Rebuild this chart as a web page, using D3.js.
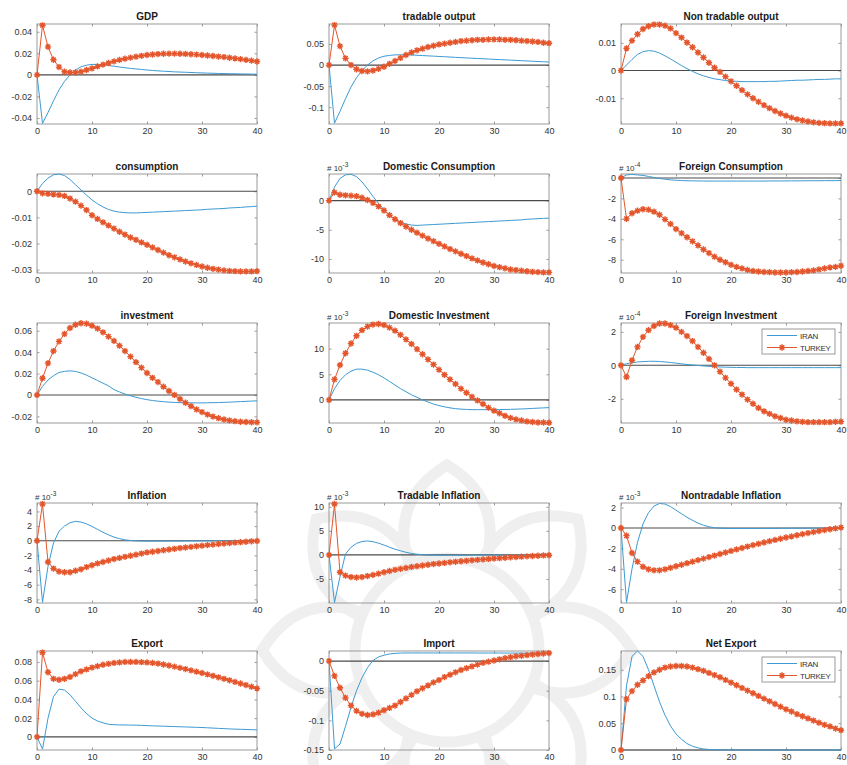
<!DOCTYPE html>
<html>
<head>
<meta charset="utf-8">
<script src="https://cdn.jsdelivr.net/npm/d3@7"></script>
<style>
  body { margin: 0; background: #fff; }
  svg { display: block; font-family: "Liberation Sans", Arial, Helvetica, sans-serif; }
</style>
</head>
<body>
<svg id="fig" width="847" height="765"></svg>
<script>
// Impulse responses, periods 0..40
const steps = d3.range(0, 41);
const xTicks = [0, 10, 20, 30, 40];
const seriesNames = ["IRAN", "TURKEY"];

const gdpIran = [0, -0.045, -0.035, -0.024, -0.014, -0.006, 0.0, 0.0045, 0.0075, 0.009, 0.0097,
  0.0097, 0.0093, 0.0087, 0.008, 0.0073, 0.0066, 0.006, 0.0055, 0.005, 0.0045,
  0.0041, 0.0037, 0.0034, 0.0031, 0.0028, 0.0026, 0.0024, 0.0022, 0.002, 0.0018,
  0.0016, 0.0015, 0.0013, 0.0012, 0.0011, 0.001, 0.0009, 0.0008, 0.0007, 0.0006];
const gdpTurkey = [0, 0.046, 0.026, 0.014, 0.0072, 0.003, 0.0022, 0.0022, 0.003, 0.0045, 0.006,
  0.0078, 0.0095, 0.011, 0.0125, 0.0139, 0.015, 0.016, 0.0169, 0.0177, 0.0184,
  0.0189, 0.0193, 0.0196, 0.0197, 0.0197, 0.0196, 0.0194, 0.0191, 0.0188, 0.0184,
  0.018, 0.0175, 0.017, 0.0165, 0.0159, 0.0153, 0.0146, 0.0139, 0.0132, 0.0124];

const tradOutIran = [0, -0.138, -0.11, -0.08, -0.052, -0.03, -0.013, 0.0, 0.01, 0.017, 0.021,
  0.023, 0.0242, 0.0245, 0.0243, 0.024, 0.0233, 0.0226, 0.0219, 0.0212, 0.0205,
  0.0198, 0.0191, 0.0184, 0.0177, 0.017, 0.0163, 0.0157, 0.015, 0.0143, 0.0137,
  0.013, 0.0124, 0.0117, 0.0111, 0.0104, 0.0098, 0.0091, 0.0085, 0.0078, 0.0072];
const tradOutTurkey = [0, 0.095, 0.045, 0.016, 0.0, -0.010, -0.014, -0.015, -0.013, -0.009, -0.004,
  0.003, 0.010, 0.017, 0.024, 0.030, 0.035, 0.039, 0.043, 0.046, 0.049,
  0.051, 0.053, 0.055, 0.057, 0.058, 0.059, 0.060, 0.060, 0.061, 0.061,
  0.061, 0.060, 0.060, 0.059, 0.058, 0.057, 0.056, 0.055, 0.053, 0.052];

const nonTradOutIran = [0, 0.002, 0.004, 0.0058, 0.0068, 0.0072, 0.007, 0.0063, 0.0053, 0.0042, 0.003,
  0.0018, 0.0007, -0.0003, -0.0012, -0.0019, -0.0025, -0.003, -0.0033, -0.0036, -0.0038,
  -0.0039, -0.004, -0.004, -0.004, -0.004, -0.004, -0.0039, -0.0039, -0.0038, -0.0037,
  -0.0036, -0.0035, -0.0035, -0.0034, -0.0033, -0.0032, -0.0032, -0.0031, -0.003, -0.003];
const nonTradOutTurkey = [0, 0.008, 0.0108, 0.0131, 0.015, 0.016, 0.0166, 0.0166, 0.0162, 0.0152, 0.0135,
  0.0119, 0.0101, 0.0084, 0.0065, 0.0047, 0.0028, 0.001, -0.0005, -0.0022, -0.0039,
  -0.0055, -0.0071, -0.0086, -0.010, -0.0113, -0.0125, -0.0136, -0.0146, -0.0155, -0.0163,
  -0.017, -0.0176, -0.018, -0.0184, -0.0187, -0.0189, -0.019, -0.0191, -0.0191, -0.0191];

const consIran = [0, 0.003, 0.005, 0.0063, 0.0066, 0.006, 0.0045, 0.0025, 0.0005, -0.0015, -0.0033,
  -0.0048, -0.006, -0.007, -0.0076, -0.008, -0.0082, -0.0083, -0.0083, -0.0082, -0.0081,
  -0.008, -0.0079, -0.0078, -0.0077, -0.0076, -0.0075, -0.0074, -0.0073, -0.0072, -0.0071,
  -0.0069, -0.0068, -0.0067, -0.0066, -0.0064, -0.0063, -0.0062, -0.006, -0.0059, -0.0057];
const consTurkey = [0, -0.0008, -0.001, -0.0012, -0.0014, -0.0018, -0.0028, -0.004, -0.0055, -0.0072, -0.0092,
  -0.0106, -0.0119, -0.0131, -0.0143, -0.0155, -0.0166, -0.0177, -0.0186, -0.0196, -0.0205,
  -0.0215, -0.0225, -0.0235, -0.0245, -0.0253, -0.0261, -0.0269, -0.0276, -0.0282, -0.0288,
  -0.0293, -0.0297, -0.03, -0.0303, -0.0305, -0.0306, -0.0307, -0.0307, -0.0307, -0.0306];

// x 10^-3
const domConsIran = [0, 2.3, 3.8, 4.4, 4.5, 4.1, 3.2, 2.0, 0.7, -0.5, -1.6,
  -2.5, -3.2, -3.7, -4.0, -4.2, -4.25, -4.2, -4.15, -4.1, -4.05,
  -4.0, -3.95, -3.9, -3.85, -3.8, -3.75, -3.7, -3.65, -3.6, -3.55,
  -3.5, -3.45, -3.4, -3.35, -3.3, -3.2, -3.15, -3.1, -3.05, -3.0];
const domConsTurkey = [0, 1.4, 1.0, 0.9, 0.85, 0.75, 0.5, 0.1, -0.4, -1.0, -1.7,
  -2.5, -3.2, -3.85, -4.45, -5.0, -5.5, -6.0, -6.5, -6.95, -7.4,
  -7.85, -8.3, -8.7, -9.1, -9.5, -9.9, -10.25, -10.6, -10.9, -11.2,
  -11.4, -11.6, -11.8, -11.9, -12.0, -12.1, -12.2, -12.25, -12.3, -12.3];

// x 10^-4
const forConsIran = [0, 0.3, 0.35, 0.3, 0.25, 0.15, 0.05, -0.05, -0.12, -0.18, -0.22,
  -0.25, -0.27, -0.28, -0.29, -0.3, -0.3, -0.3, -0.3, -0.3, -0.3,
  -0.3, -0.3, -0.3, -0.3, -0.3, -0.3, -0.29, -0.29, -0.29, -0.29,
  -0.28, -0.28, -0.28, -0.27, -0.27, -0.27, -0.26, -0.26, -0.26, -0.25];
const forConsTurkey = [0, -4.0, -3.45, -3.2, -3.06, -3.1, -3.3, -3.6, -4.05, -4.5, -5.0,
  -5.4, -5.8, -6.2, -6.6, -7.0, -7.35, -7.7, -8.0, -8.25, -8.5,
  -8.7, -8.85, -9.0, -9.1, -9.15, -9.2, -9.22, -9.25, -9.25, -9.25,
  -9.22, -9.2, -9.15, -9.1, -9.05, -8.95, -8.85, -8.75, -8.7, -8.6];

const invIran = [0, 0.008, 0.014, 0.018, 0.021, 0.022, 0.0225, 0.022, 0.0205, 0.0185, 0.016,
  0.0135, 0.011, 0.0085, 0.005, 0.0028, 0.0008, -0.0008, -0.0022, -0.0034, -0.0044,
  -0.0052, -0.0058, -0.0063, -0.0067, -0.007, -0.0072, -0.0073, -0.0074, -0.0074, -0.0074,
  -0.0073, -0.0072, -0.0071, -0.0069, -0.0067, -0.0065, -0.0062, -0.006, -0.0057, -0.0055];
const invTurkey = [0, 0.0156, 0.0297, 0.041, 0.050, 0.057, 0.0625, 0.0656, 0.067, 0.0666, 0.0647,
  0.062, 0.0585, 0.0545, 0.0505, 0.046, 0.041, 0.0358, 0.0306, 0.0255, 0.0205,
  0.016, 0.012, 0.0077, 0.0037, 0.0, -0.0038, -0.0073, -0.0105, -0.0135, -0.016,
  -0.0183, -0.0202, -0.0217, -0.0229, -0.0238, -0.0245, -0.025, -0.0253, -0.0255, -0.0256];

// x 10^-3
const domInvIran = [0, 2.2, 3.8, 4.9, 5.6, 6.0, 6.0, 5.8, 5.4, 4.9, 4.3,
  3.6, 2.9, 2.2, 1.6, 1.0, 0.5, 0.0, -0.4, -0.8, -1.1,
  -1.35, -1.55, -1.7, -1.8, -1.85, -1.9, -1.9, -1.9, -1.9, -1.9,
  -1.88, -1.86, -1.84, -1.8, -1.76, -1.72, -1.66, -1.6, -1.55, -1.5];
const domInvTurkey = [0, 4.0, 6.8, 9.1, 11.0, 12.5, 13.6, 14.3, 14.7, 14.8, 14.6,
  14.1, 13.5, 12.7, 11.8, 10.9, 9.9, 8.9, 7.9, 6.9, 5.9,
  4.9, 4.0, 3.1, 2.2, 1.4, 0.6, -0.1, -0.8, -1.5, -2.1,
  -2.6, -3.1, -3.5, -3.8, -4.0, -4.2, -4.3, -4.4, -4.4, -4.45];

// x 10^-4
const forInvIran = [0, 0.1, 0.15, 0.2, 0.22, 0.24, 0.24, 0.23, 0.2, 0.17, 0.13,
  0.09, 0.05, 0.02, -0.01, -0.04, -0.06, -0.08, -0.1, -0.11, -0.12,
  -0.13, -0.13, -0.14, -0.14, -0.14, -0.14, -0.14, -0.14, -0.14, -0.14,
  -0.14, -0.14, -0.14, -0.14, -0.14, -0.14, -0.14, -0.14, -0.14, -0.14];
const forInvTurkey = [0, -0.7, 0.3, 1.1, 1.7, 2.1, 2.35, 2.5, 2.5, 2.4, 2.25,
  2.0, 1.75, 1.45, 1.1, 0.75, 0.38, 0.0, -0.38, -0.75, -1.1,
  -1.45, -1.75, -2.05, -2.3, -2.55, -2.75, -2.9, -3.05, -3.15, -3.25,
  -3.3, -3.35, -3.38, -3.4, -3.4, -3.4, -3.4, -3.4, -3.38, -3.37];

// x 10^-3
const inflIran = [0, -8.4, -3.5, -0.3, 1.3, 2.0, 2.45, 2.65, 2.55, 2.3, 1.95,
  1.55, 1.15, 0.8, 0.5, 0.28, 0.12, 0.03, -0.02, -0.05, -0.06,
  -0.06, -0.06, -0.06, -0.05, -0.05, -0.05, -0.04, -0.04, -0.04, -0.03,
  -0.03, -0.03, -0.02, -0.02, -0.02, -0.01, -0.01, -0.01, -0.01, 0];
const inflTurkey = [0, 5.0, -2.9, -3.8, -4.2, -4.3, -4.3, -4.1, -3.9, -3.6, -3.35,
  -3.1, -2.9, -2.7, -2.5, -2.35, -2.2, -2.05, -1.9, -1.75, -1.6,
  -1.5, -1.4, -1.3, -1.2, -1.1, -1.0, -0.92, -0.84, -0.76, -0.68,
  -0.6, -0.53, -0.46, -0.39, -0.32, -0.26, -0.2, -0.14, -0.08, -0.03];

const tradInflIran = [0, -9.9, -4.5, 0.2, 1.6, 2.4, 2.8, 2.9, 2.75, 2.45, 2.05,
  1.6, 1.2, 0.85, 0.55, 0.3, 0.15, 0.05, -0.02, -0.05, -0.06,
  -0.06, -0.06, -0.06, -0.05, -0.05, -0.05, -0.04, -0.04, -0.04, -0.03,
  -0.03, -0.03, -0.02, -0.02, -0.02, -0.01, -0.01, -0.01, -0.01, 0];
const tradInflTurkey = [0, 10.6, -3.6, -4.3, -4.6, -4.7, -4.6, -4.4, -4.15, -3.9, -3.6,
  -3.35, -3.1, -2.9, -2.7, -2.5, -2.35, -2.2, -2.05, -1.9, -1.78,
  -1.66, -1.54, -1.43, -1.32, -1.22, -1.12, -1.02, -0.93, -0.84, -0.75,
  -0.67, -0.59, -0.51, -0.44, -0.37, -0.3, -0.23, -0.17, -0.11, -0.06];

const nonTradInflIran = [0, -7.3, -4.0, -1.4, 0.4, 1.5, 2.15, 2.4, 2.35, 2.1, 1.75,
  1.4, 1.05, 0.75, 0.48, 0.27, 0.12, 0.03, -0.02, -0.04, -0.05,
  -0.05, -0.05, -0.05, -0.05, -0.05, -0.04, -0.04, -0.04, -0.03, -0.03,
  -0.03, -0.02, -0.02, -0.02, -0.01, -0.01, -0.01, -0.01, 0, 0];
const nonTradInflTurkey = [0, -0.75, -2.45, -3.3, -3.8, -4.05, -4.15, -4.15, -4.05, -3.9, -3.75,
  -3.6, -3.45, -3.3, -3.15, -3.0, -2.85, -2.7, -2.55, -2.4, -2.25,
  -2.1, -1.96, -1.82, -1.68, -1.55, -1.42, -1.29, -1.17, -1.05, -0.93,
  -0.82, -0.71, -0.6, -0.5, -0.4, -0.3, -0.21, -0.12, -0.04, 0.04];

const exportIran = [0, -0.013, 0.02, 0.043, 0.051, 0.05, 0.045, 0.038, 0.031, 0.025, 0.02,
  0.017, 0.015, 0.0135, 0.013, 0.0128, 0.0127, 0.0126, 0.0125, 0.0123, 0.012,
  0.0118, 0.0116, 0.0114, 0.0112, 0.011, 0.0108, 0.0106, 0.0104, 0.0102, 0.01,
  0.0097, 0.0094, 0.0091, 0.0088, 0.0085, 0.0083, 0.0081, 0.0079, 0.0077, 0.0075];
const exportTurkey = [0, 0.09, 0.069, 0.062, 0.061, 0.062, 0.064, 0.067, 0.07, 0.072, 0.074,
  0.0755, 0.077, 0.078, 0.079, 0.0795, 0.08, 0.08, 0.08, 0.0798, 0.0795,
  0.079, 0.0783, 0.0773, 0.0762, 0.075, 0.0737, 0.0724, 0.071, 0.0696, 0.0682,
  0.0667, 0.0652, 0.0636, 0.062, 0.0604, 0.0587, 0.057, 0.0553, 0.0536, 0.0518];

const importIran = [0, -0.148, -0.14, -0.11, -0.078, -0.05, -0.028, -0.011, 0.001, 0.007, 0.010,
  0.012, 0.013, 0.0135, 0.0137, 0.0137, 0.0137, 0.0137, 0.0137, 0.0137, 0.0137,
  0.0137, 0.0137, 0.0137, 0.0137, 0.0137, 0.0137, 0.0136, 0.0136, 0.0136, 0.0136,
  0.0136, 0.0135, 0.0135, 0.0135, 0.0135, 0.0134, 0.0134, 0.0134, 0.0133, 0.0133];
const importTurkey = [0, -0.025, -0.045, -0.062, -0.075, -0.084, -0.089, -0.091, -0.09, -0.087, -0.083,
  -0.079, -0.075, -0.069, -0.063, -0.057, -0.051, -0.046, -0.041, -0.036, -0.032,
  -0.027, -0.023, -0.019, -0.015, -0.012, -0.009, -0.006, -0.003, -0.001, 0.001,
  0.003, 0.005, 0.0065, 0.008, 0.009, 0.010, 0.011, 0.012, 0.0128, 0.0135];

const netExportIran = [0, 0.12, 0.175, 0.185, 0.175, 0.15, 0.12, 0.09, 0.065, 0.045, 0.03,
  0.02, 0.012, 0.007, 0.004, 0.002, 0.001, 0.0005, 0.0003, 0.0002, 0.0001,
  0, 0, 0, 0, 0, 0, 0, 0, 0, 0,
  0, 0, 0, 0, 0, 0, 0, 0, 0, 0];
const netExportTurkey = [0, 0.095, 0.11, 0.122, 0.13, 0.138, 0.145, 0.15, 0.154, 0.156, 0.157,
  0.157, 0.156, 0.154, 0.151, 0.148, 0.144, 0.14, 0.136, 0.131, 0.126,
  0.121, 0.116, 0.111, 0.106, 0.101, 0.096, 0.091, 0.086, 0.081, 0.076,
  0.072, 0.067, 0.063, 0.059, 0.055, 0.051, 0.047, 0.044, 0.04, 0.037];

// Panel definitions: title, series, y-limits, y-ticks, exponent of the axis multiplier
const panels = [
  { title: "GDP", iran: gdpIran, turkey: gdpTurkey, lim: [-0.0456, 0.0472], ticks: [-0.04, -0.02, 0, 0.02, 0.04] },
  { title: "tradable output", iran: tradOutIran, turkey: tradOutTurkey, lim: [-0.14, 0.0976], ticks: [-0.1, -0.05, 0, 0.05] },
  { title: "Non tradable output", iran: nonTradOutIran, turkey: nonTradOutTurkey, lim: [-0.0193, 0.0168], ticks: [-0.01, 0, 0.01] },
  { title: "consumption", iran: consIran, turkey: consTurkey, lim: [-0.0313, 0.0066], ticks: [-0.03, -0.02, -0.01, 0] },
  { title: "Domestic Consumption", iran: domConsIran, turkey: domConsTurkey, lim: [-12.4, 4.55], ticks: [-10, -5, 0], exp: "-3" },
  { title: "Foreign Consumption", iran: forConsIran, turkey: forConsTurkey, lim: [-9.3, 0.39], ticks: [-8, -6, -4, -2, 0], exp: "-4" },
  { title: "investment", iran: invIran, turkey: invTurkey, lim: [-0.0262, 0.0672], ticks: [-0.02, 0, 0.02, 0.04, 0.06] },
  { title: "Domestic Investment", iran: domInvIran, turkey: domInvTurkey, lim: [-4.5, 15.0], ticks: [0, 5, 10], exp: "-3" },
  { title: "Foreign  Investment", iran: forInvIran, turkey: forInvTurkey, lim: [-3.45, 2.53], ticks: [-2, 0, 2], exp: "-4", legend: true },
  { title: "Inflation", iran: inflIran, turkey: inflTurkey, lim: [-8.5, 5.15], ticks: [-8, -6, -4, -2, 0, 2, 4], exp: "-3" },
  { title: "Tradable Inflation", iran: tradInflIran, turkey: tradInflTurkey, lim: [-10.0, 10.8], ticks: [-5, 0, 5, 10], exp: "-3" },
  { title: "Nontradable Inflation", iran: nonTradInflIran, turkey: nonTradInflTurkey, lim: [-7.35, 2.45], ticks: [-6, -4, -2, 0, 2], exp: "-3" },
  { title: "Export", iran: exportIran, turkey: exportTurkey, lim: [-0.014, 0.0917], ticks: [0, 0.02, 0.04, 0.06, 0.08] },
  { title: "Import", iran: importIran, turkey: importTurkey, lim: [-0.15, 0.017], ticks: [-0.15, -0.1, -0.05, 0] },
  { title: "Net Export", iran: netExportIran, turkey: netExportTurkey, lim: [0, 0.185], ticks: [0, 0.05, 0.1, 0.15], legend: true }
];

// Grid geometry
const colLeft = [37, 329, 621];
const colWidth = [220, 220, 220];
const rowTop = [24, 174, 323, 503, 651];
const rowHeight = [100, 99, 100, 100, 99];

const IRAN_COLOR = "#3d9ad3";
const TURKEY_COLOR = "#e4552b";
const BOX_COLOR = "#9a9a9a";
const TEXT_COLOR = "#333";

// MATLAB-style '*' marker: a plus overlaid on a cross
const starSymbol = {
  draw(context, size) {
    const r = Math.sqrt(size) / 2;
    const d = r * Math.SQRT1_2;
    context.moveTo(-r, 0); context.lineTo(r, 0);
    context.moveTo(0, -r); context.lineTo(0, r);
    context.moveTo(-d, -d); context.lineTo(d, d);
    context.moveTo(-d, d); context.lineTo(d, -d);
  }
};
const starPath = d3.symbol().type(starSymbol).size(40)();

const svg = d3.select("#fig");

// Faint ornamental rosette in the background
const orn = svg.append("g").attr("fill", "none").attr("stroke", "#efefef").attr("stroke-width", 11);
const oc = [447, 650];
orn.append("circle").attr("cx", oc[0]).attr("cy", oc[1]).attr("r", 92);
d3.range(8).forEach(k => {
  const a = (k * 45 - 90) * Math.PI / 180;
  const s = 24 * Math.PI / 180;
  const p0 = [oc[0] + 92 * Math.cos(a - s), oc[1] + 92 * Math.sin(a - s)];
  const p1 = [oc[0] + 92 * Math.cos(a + s), oc[1] + 92 * Math.sin(a + s)];
  const tip = [oc[0] + 185 * Math.cos(a), oc[1] + 185 * Math.sin(a)];
  const c0 = [oc[0] + 160 * Math.cos(a - s * 0.9), oc[1] + 160 * Math.sin(a - s * 0.9)];
  const c1 = [oc[0] + 160 * Math.cos(a + s * 0.9), oc[1] + 160 * Math.sin(a + s * 0.9)];
  const p = d3.path();
  p.moveTo(p0[0], p0[1]);
  p.quadraticCurveTo(c0[0], c0[1], tip[0], tip[1]);
  p.quadraticCurveTo(c1[0], c1[1], p1[0], p1[1]);
  orn.append("path").attr("d", p.toString());
});

panels.forEach((p, i) => {
  const col = i % 3, row = Math.floor(i / 3);
  const L = colLeft[col], T = rowTop[row], W = colWidth[col], H = rowHeight[row];
  const x = d3.scaleLinear().domain([0, 40]).range([L, L + W]);
  const y = d3.scaleLinear().domain(p.lim).range([T + H, T]);
  const g = svg.append("g");

  const clipId = "clip" + i;
  svg.append("clipPath").attr("id", clipId)
    .append("rect").attr("x", L).attr("y", T - 1).attr("width", W + 1).attr("height", H + 2);

  // axes (ticks point inward, mirrored on the opposite sides)
  const fmt = v => String(v);
  const axB = g.append("g").attr("transform", `translate(0,${T + H})`)
    .call(d3.axisBottom(x).tickValues(xTicks).tickSize(-2.5).tickPadding(4).tickFormat(fmt));
  const axT = g.append("g").attr("transform", `translate(0,${T})`)
    .call(d3.axisTop(x).tickValues(xTicks).tickSize(-2.5).tickFormat(""));
  const axL = g.append("g").attr("transform", `translate(${L},0)`)
    .call(d3.axisLeft(y).tickValues(p.ticks).tickSize(-2.5).tickPadding(5).tickFormat(fmt));
  const axR = g.append("g").attr("transform", `translate(${L + W},0)`)
    .call(d3.axisRight(y).tickValues(p.ticks).tickSize(-2.5).tickFormat(""));
  [axB, axT, axL, axR].forEach(a => {
    a.select(".domain").remove();
    a.selectAll("line").attr("stroke", BOX_COLOR);
    a.selectAll("text").attr("fill", TEXT_COLOR).attr("font-size", 9)
      .attr("font-family", '"Liberation Sans", Arial, sans-serif');
  });

  g.append("rect").attr("x", L).attr("y", T).attr("width", W).attr("height", H)
    .attr("fill", "none").attr("stroke", BOX_COLOR).attr("stroke-width", 1);

  const plot = g.append("g").attr("clip-path", `url(#${clipId})`);

  // zero reference line
  plot.append("line").attr("x1", x(0)).attr("x2", x(40)).attr("y1", y(0)).attr("y2", y(0))
    .attr("stroke", "#4a4a4a").attr("stroke-width", 1.1);

  const line = d3.line().x((d, k) => x(steps[k])).y(d => y(d));

  plot.append("path").attr("d", line(p.iran)).attr("fill", "none")
    .attr("stroke", IRAN_COLOR).attr("stroke-width", 1);
  plot.append("path").attr("d", line(p.turkey)).attr("fill", "none")
    .attr("stroke", TURKEY_COLOR).attr("stroke-width", 1);
  g.append("g").selectAll("path").data(p.turkey).join("path")
    .attr("transform", (d, k) => `translate(${x(steps[k])},${y(d)})`)
    .attr("d", starPath).attr("fill", "none")
    .attr("stroke", TURKEY_COLOR).attr("stroke-width", 1.4);

  // title
  g.append("text").attr("x", L + W / 2).attr("y", T - 4).attr("text-anchor", "middle")
    .attr("font-size", 10).attr("font-weight", "bold").attr("fill", "#1a1a1a").text(p.title);

  // axis multiplier
  if (p.exp) {
    const t = g.append("text").attr("x", L - 2).attr("y", T - 3).attr("font-size", 8).attr("fill", TEXT_COLOR);
    t.append("tspan").text("# 10");
    t.append("tspan").attr("dy", -4).attr("font-size", 6.5).text(p.exp);
  }

  // legend
  if (p.legend) {
    const lx = L + W - 79, ly = T + 6;
    const lg = g.append("g");
    lg.append("rect").attr("x", lx).attr("y", ly).attr("width", 73).attr("height", 25)
      .attr("fill", "#fff").attr("stroke", BOX_COLOR);
    seriesNames.forEach((name, k) => {
      const yy = ly + 6.5 + k * 12;
      lg.append("line").attr("x1", lx + 5).attr("x2", lx + 35).attr("y1", yy).attr("y2", yy)
        .attr("stroke", k === 0 ? IRAN_COLOR : TURKEY_COLOR).attr("stroke-width", 1);
      if (k === 1) {
        lg.append("path").attr("transform", `translate(${lx + 20},${yy})`).attr("d", starPath)
          .attr("fill", "none").attr("stroke", TURKEY_COLOR).attr("stroke-width", 1.4);
      }
      lg.append("text").attr("x", lx + 38).attr("y", yy + 3).attr("font-size", 8)
        .attr("letter-spacing", -0.3).attr("fill", TEXT_COLOR).text(name);
    });
  }
});
</script>
</body>
</html>
